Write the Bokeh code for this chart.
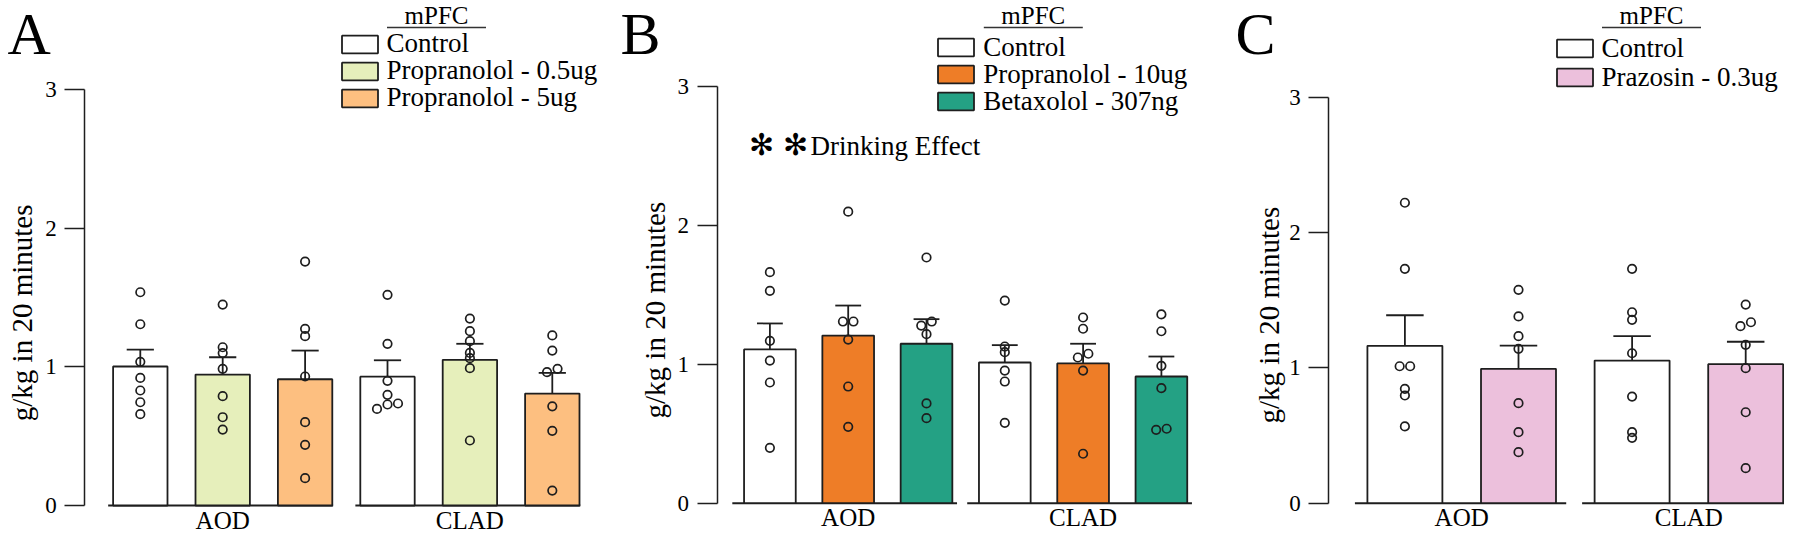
import numpy as np
from bokeh.plotting import figure
from bokeh.layouts import row
from bokeh.models import FixedTicker, Legend, LegendItem, Label, Range1d
from bokeh.embed import file_html
from bokeh.resources import INLINE

# ---------------- data ----------------
GROUPS = ["AOD", "CLAD"]

# Panel A
A_TREATMENTS = ["Control", "Propranolol - 0.5ug", "Propranolol - 5ug"]
A_COLORS = ["#ffffff", "#e6efbb", "#fdbf80"]
A_MEAN_AOD = [1.003, 0.945, 0.911]
A_MEAN_CLAD = [0.930, 1.051, 0.808]
A_SEM_AOD = [0.122, 0.125, 0.207]
A_SEM_CLAD = [0.118, 0.116, 0.149]
A_PTS_AOD = [
    [1.539, 1.308, 1.037, 0.921, 0.830, 0.745, 0.659],
    [1.450, 1.142, 1.100, 0.986, 0.789, 0.637, 0.548],
    [1.760, 1.275, 1.222, 0.931, 0.601, 0.438, 0.197],
]
A_PTS_CLAD = [
    [1.520, 1.167, 0.900, 0.799, 0.736, 0.729, 0.697],
    [1.349, 1.258, 1.186, 1.101, 1.063, 0.991, 0.469],
    [1.227, 1.118, 0.986, 0.962, 0.716, 0.539, 0.108],
]

# Panel B
B_TREATMENTS = ["Control", "Propranolol - 10ug", "Betaxolol - 307ng"]
B_COLORS = ["#ffffff", "#ee7d27", "#24a184"]
B_MEAN_AOD = [1.107, 1.207, 1.148]
B_MEAN_CLAD = [1.013, 1.006, 0.912]
B_SEM_AOD = [0.187, 0.216, 0.177]
B_SEM_CLAD = [0.125, 0.142, 0.144]
B_PTS_AOD = [
    [1.663, 1.529, 1.169, 1.027, 0.869, 0.399],
    [2.099, 1.308, 1.308, 1.178, 0.840, 0.550],
    [1.769, 1.308, 1.279, 1.217, 0.718, 0.612],
]
B_PTS_CLAD = [
    [1.459, 1.128, 1.087, 0.955, 0.876, 0.579],
    [1.337, 1.256, 1.076, 1.049, 0.955, 0.356],
    [1.359, 1.238, 0.989, 0.828, 0.536, 0.528],
]

# Panel C
C_TREATMENTS = ["Control", "Prazosin - 0.3ug"]
C_COLORS = ["#ffffff", "#ecc0dc"]
C_MEAN_AOD = [1.163, 0.993]
C_MEAN_CLAD = [1.054, 1.027]
C_SEM_AOD = [0.226, 0.172]
C_SEM_CLAD = [0.180, 0.166]
C_PTS_AOD = [
    [2.220, 1.732, 1.012, 1.012, 0.845, 0.796, 0.567],
    [1.577, 1.380, 1.234, 1.141, 0.739, 0.525, 0.377],
]
C_PTS_CLAD = [
    [1.732, 1.411, 1.355, 1.108, 0.788, 0.525, 0.483],
    [1.468, 1.337, 1.308, 1.170, 0.998, 0.672, 0.259],
]

Y_TICKS = [0, 1, 2, 3]
Y_LABEL = "g/kg in 20 minutes"
LEGEND_TITLE = "mPFC"
NOTE_TEXT = "Drinking Effect"

# ---------------- layout / style ----------------
FIG_H = 534
SERIF = "Liberation Serif"
INK = "#1e1e1e"
BAR_W = 0.66
LEGEND_FONT_PX = 27
ROW_BOX_H = 31.6       # rendered height of one legend row box
GLYPH_H = 22

LAYOUTS = {
    "A": dict(fig_left=0, width=600, axis_sx=84.2, center0_sx=139.8, slot_px=82.4,
              zero_sy=505.0, unit_py=138.57, pad=(0.06, 0.01), letter=(7, 33.5),
              legend_sx=336.5, patch_top=32.3, row_pitch=27.0, ylabel_sx=21),
    "B": dict(fig_left=600, width=600, axis_sx=716.6, center0_sx=769.4, slot_px=78.3,
              zero_sy=502.7, unit_py=138.9, pad=(0.15, 0.06), letter=(620, 33.5),
              legend_sx=933.3, patch_top=35.7, row_pitch=27.2, ylabel_sx=654),
    "C": dict(fig_left=1200, width=584, axis_sx=1328.2, center0_sx=1404.4, slot_px=113.6,
              zero_sy=502.7, unit_py=135.33, pad=(0.11, 0.09), letter=(1235, 33.5),
              legend_sx=1551.5, patch_top=36.7, row_pitch=29.0, ylabel_sx=1268),
}


def jitter_offsets(vals, step, tol=0.035):
    vals = np.asarray(vals, dtype=float)
    order = np.argsort(vals)
    offsets = np.zeros(len(vals))
    clusters, cur = [], [order[0]]
    for a, b in zip(order[:-1], order[1:]):
        if vals[b] - vals[a] < tol:
            cur.append(b)
        else:
            clusters.append(cur)
            cur = [b]
    clusters.append(cur)
    for cl in clusters:
        n = len(cl)
        for i, idx in enumerate(cl):
            offsets[idx] = (i - (n - 1) / 2) * step
    return offsets


def make_panel(letter, treatments, colors, means, sems, pts, note=False):
    L = LAYOUTS[letter]
    fig_left, width = L["fig_left"], L["width"]

    def dx(sx):
        return (sx - L["center0_sx"]) / L["slot_px"]

    def dy(sy):
        return (L["zero_sy"] - sy) / L["unit_py"]

    p = figure(width=width, height=FIG_H, output_backend="svg", toolbar_location=None,
               x_range=Range1d(dx(fig_left), dx(fig_left + width)),
               y_range=Range1d(dy(FIG_H), dy(0)),
               min_border=0, min_border_left=0, min_border_right=0, min_border_top=0,
               min_border_bottom=0)
    p.outline_line_color = None
    p.grid.visible = False
    p.background_fill_color = "white"
    p.border_fill_color = "white"

    nt = len(treatments)
    ng = len(GROUPS)
    # baselines under each group
    p.segment(x0=[g * nt - BAR_W / 2 - L["pad"][0] for g in range(ng)],
              x1=[g * nt + nt - 1 + BAR_W / 2 + L["pad"][1] for g in range(ng)],
              y0=[0] * ng, y1=[0] * ng, line_color=INK, line_width=2)

    items = []
    step = 10.5 / L["slot_px"]
    for t in range(nt):
        xs = [g * nt + t for g in range(ng)]
        tops = [means[g][t] for g in range(ng)]
        errs = [means[g][t] + sems[g][t] for g in range(ng)]
        r = p.vbar(x=xs, top=tops, bottom=0, width=BAR_W, fill_color=colors[t],
                   line_color=INK, line_width=1.8)
        items.append(LegendItem(label=treatments[t], renderers=[r]))
        p.segment(x0=xs, x1=xs, y0=tops, y1=errs, line_color=INK, line_width=1.8)
        p.segment(x0=[x - BAR_W / 4 for x in xs], x1=[x + BAR_W / 4 for x in xs],
                  y0=errs, y1=errs, line_color=INK, line_width=1.8)
        for g in range(ng):
            v = pts[g][t]
            off = jitter_offsets(v, step)
            p.scatter(x=list(xs[g] + off), y=v, marker="circle", size=8.5,
                      fill_alpha=0, line_color=INK, line_width=1.7)

    # y axis, fixed at its place inside the frame
    ya = p.yaxis[0]
    ya.fixed_location = dx(L["axis_sx"])
    ya.ticker = FixedTicker(ticks=Y_TICKS)
    ya.bounds = (0, 3)
    ya.major_tick_out = 20
    ya.major_tick_in = 0
    ya.minor_tick_line_color = None
    ya.axis_line_width = 1.5
    ya.axis_line_color = INK
    ya.major_tick_line_color = INK
    ya.major_tick_line_width = 1.5
    ya.major_label_standoff = 8
    ya.major_label_text_font = SERIF
    ya.major_label_text_font_size = "23px"
    ya.major_label_text_color = "black"

    # x axis (group names), fixed at y = 0
    xa = p.xaxis[0]
    centers = [g * nt + (nt - 1) / 2 for g in range(ng)]
    xa.fixed_location = 0
    xa.ticker = FixedTicker(ticks=centers)
    xa.major_label_overrides = {c: GROUPS[g] for g, c in enumerate(centers)}
    xa.axis_line_color = None
    xa.major_tick_line_color = None
    xa.minor_tick_line_color = None
    xa.major_tick_out = 0
    xa.major_tick_in = 0
    xa.major_label_standoff = 1
    xa.major_label_text_font = SERIF
    xa.major_label_text_font_size = "25px"
    xa.major_label_text_color = "black"

    # y label (rotated text)
    p.add_layout(Label(x=dx(L["ylabel_sx"]), y=1.39, text=Y_LABEL, angle=np.pi / 2,
                       text_align="center", text_baseline="middle", text_font=SERIF,
                       text_font_size="29px", text_color="black"))
    # panel letter
    lx_, ly_ = L["letter"]
    p.add_layout(Label(x=dx(lx_), y=dy(ly_), text=letter, text_align="left",
                       text_baseline="middle", text_font=SERIF,
                       text_font_size="60px", text_color="black"))

    # legend: one row per Legend so that the row pitch can be set exactly
    lx = L["legend_sx"] - fig_left
    for t, item in enumerate(items):
        row_center = L["patch_top"] + GLYPH_H / 2 + t * L["row_pitch"]
        ly = FIG_H - (row_center + ROW_BOX_H / 2)
        legend = Legend(items=[item], location=(lx, ly), orientation="vertical",
                        border_line_alpha=0, background_fill_alpha=0, padding=0, margin=0,
                        spacing=0, glyph_width=45, glyph_height=GLYPH_H,
                        label_height=20, label_standoff=5, label_text_font=SERIF,
                        label_text_font_size=f"{LEGEND_FONT_PX}px",
                        label_text_color="black")
        p.add_layout(legend)
    ul_left = L["legend_sx"] + 50
    p.segment(x0=[dx(ul_left)], x1=[dx(ul_left + 99)], y0=[dy(27)], y1=[dy(27)],
              line_color="#333333", line_width=1.5)
    p.add_layout(Label(x=dx(ul_left + 49.5), y=dy(14.5), text=LEGEND_TITLE,
                       text_align="center", text_baseline="middle", text_font=SERIF,
                       text_font_size="25px", text_color="black"))

    if note:
        for cx in (761, 795):
            p.add_layout(Label(x=dx(cx), y=dy(144), text="\u273B", text_align="center",
                               text_baseline="middle", text_font="DejaVu Sans",
                               text_font_size="30px", text_color="black"))
        p.add_layout(Label(x=dx(810), y=dy(145), text=NOTE_TEXT, text_align="left",
                           text_baseline="middle", text_font=SERIF,
                           text_font_size="27px", text_color="black"))
    return p


pA = make_panel("A", A_TREATMENTS, A_COLORS, [A_MEAN_AOD, A_MEAN_CLAD],
                [A_SEM_AOD, A_SEM_CLAD], [A_PTS_AOD, A_PTS_CLAD])
pB = make_panel("B", B_TREATMENTS, B_COLORS, [B_MEAN_AOD, B_MEAN_CLAD],
                [B_SEM_AOD, B_SEM_CLAD], [B_PTS_AOD, B_PTS_CLAD], note=True)
pC = make_panel("C", C_TREATMENTS, C_COLORS, [C_MEAN_AOD, C_MEAN_CLAD],
                [C_SEM_AOD, C_SEM_CLAD], [C_PTS_AOD, C_PTS_CLAD])

layout = row(pA, pB, pC, spacing=0)
open("out.html", "w").write(file_html(layout, INLINE))
